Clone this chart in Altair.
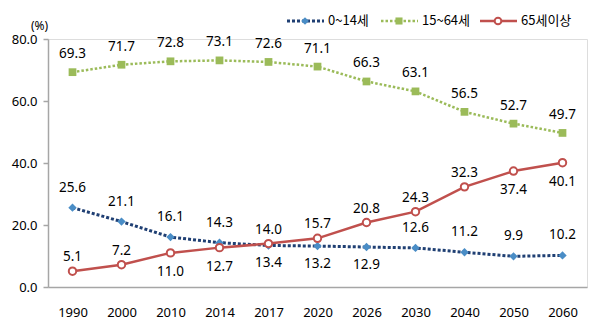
import altair as alt
import pandas as pd

YEARS = ["1990", "2000", "2010", "2014", "2017", "2020", "2026", "2030", "2040", "2050", "2060"]
SERIES = ["0~14세", "15~64세", "65세이상"]
CHILD = [25.6, 21.1, 16.1, 14.3, 13.4, 13.2, 12.9, 12.6, 11.2, 9.9, 10.2]
WORKING = [69.3, 71.7, 72.8, 73.1, 72.6, 71.1, 66.3, 63.1, 56.5, 52.7, 49.7]
ELDER = [5.1, 7.2, 11.0, 12.7, 14.0, 15.7, 20.8, 24.3, 32.3, 37.4, 40.1]
Y_TICKS = [0, 20, 40, 60, 80]

# label placement (above / below the marker)
CHILD_SIDE = ["above"] * 4 + ["below"] * 3 + ["above"] * 4
WORKING_SIDE = ["above"] * 11
ELDER_SIDE = ["above", "above", "below", "below", "above", "above",
              "above", "above", "above", "below", "below"]

rows = []
for s, vals, sides in zip(SERIES, [CHILD, WORKING, ELDER], [CHILD_SIDE, WORKING_SIDE, ELDER_SIDE]):
    for y, v, sd in zip(YEARS, vals, sides):
        rows.append({"year": y, "series": s, "value": v, "side": sd})
df = pd.DataFrame(rows)

FONT = "Noto Sans"
KFONT = "Noto Sans CJK KR"
NAVY = "#1F3F73"
BLUE = "#4A8DC6"
GREEN = "#9BBB59"
RED = "#C0504D"
AXIS = "#A6A6A6"

x_enc = alt.X("year:O", sort=YEARS,
              scale=alt.Scale(type="point", padding=0.5),
              axis=alt.Axis(title=None, labelAngle=0, ticks=False, labelPadding=19,
                            labelFont=FONT, labelFontSize=13, labelColor="#000000",
                            domainColor=AXIS, domainWidth=1.5, grid=False))
y_enc = alt.Y("value:Q",
              scale=alt.Scale(domain=[0, 80], nice=False),
              axis=alt.Axis(values=Y_TICKS, format=".1f", title="(%)", titleAngle=0,
                            titleX=-9, titleY=-14, titleAlign="center", titleBaseline="middle",
                            titleFont=FONT, titleFontSize=12, titleFontWeight="normal",
                            labelFont=FONT, labelFontSize=13, labelColor="#000000",
                            labelPadding=6, tickSize=5, tickColor=AXIS, tickWidth=1.5,
                            domainColor=AXIS, domainWidth=1.5, grid=False))

base = alt.Chart(df).encode(x=x_enc, y=y_enc)

def series_layers(name, line_kw, point_kw, above_dy, below_dy):
    b = base.transform_filter(alt.datum.series == name)
    line = b.mark_line(**line_kw)
    pts = b.mark_point(**point_kw)
    t_above = b.transform_filter(alt.datum.side == "above").mark_text(
        dy=above_dy, font=FONT, fontSize=13.5, color="#000000").encode(text=alt.Text("value:Q", format=".1f"))
    t_below = b.transform_filter(alt.datum.side == "below").mark_text(
        dy=below_dy, font=FONT, fontSize=13.5, color="#000000").encode(text=alt.Text("value:Q", format=".1f"))
    return [line, pts, t_above, t_below]

layers = []
layers += series_layers(SERIES[0],
                        dict(color=NAVY, strokeWidth=3, strokeDash=[3, 2], strokeCap="butt"),
                        dict(shape="diamond", filled=True, color=BLUE, size=70, opacity=1),
                        -20, 18)
layers += series_layers(SERIES[1],
                        dict(color=GREEN, strokeWidth=2.5, strokeDash=[2.5, 2], strokeCap="butt"),
                        dict(shape="square", filled=True, color=GREEN, size=60, opacity=1),
                        -18, 18)
layers += series_layers(SERIES[2],
                        dict(color=RED, strokeWidth=2.5),
                        dict(shape="circle", filled=True, fill="white", stroke=RED, strokeWidth=2,
                             size=55, opacity=1),
                        -14, 19)

# manual legend
one = alt.Chart(pd.DataFrame({"k": [0]}))
LEG_Y = -18
def legend_item(x0, label, line_kw, point_kw):
    ln = one.mark_rule(**line_kw).encode(x=alt.value(x0), x2=alt.value(x0 + 37), y=alt.value(LEG_Y))
    pt = one.mark_point(**point_kw).encode(x=alt.value(x0 + 18), y=alt.value(LEG_Y))
    tx = one.mark_text(align="left", baseline="middle", font=KFONT, fontSize=13, color="#000000").encode(
        x=alt.value(x0 + 41), y=alt.value(LEG_Y), text=alt.value(label))
    return [ln, pt, tx]

layers += legend_item(239, SERIES[0],
                      dict(color=NAVY, strokeWidth=3, strokeDash=[3, 2], strokeCap="butt"),
                      dict(shape="diamond", filled=True, color=BLUE, size=60, opacity=1))
layers += legend_item(333, SERIES[1],
                      dict(color=GREEN, strokeWidth=2.5, strokeDash=[2.5, 2], strokeCap="butt"),
                      dict(shape="square", filled=True, color=GREEN, size=50, opacity=1))
layers += legend_item(432, SERIES[2],
                      dict(color=RED, strokeWidth=2.5),
                      dict(shape="circle", filled=True, fill="white", stroke=RED, strokeWidth=2,
                           size=45, opacity=1))

chart = alt.layer(*layers).properties(
    width=539, height=248,
    autosize=alt.AutoSizeParams(type="none"),
    padding={"left": 48, "top": 39, "right": 15, "bottom": 43},
).configure_view(stroke=None).configure(background="white")

chart.save("out.html", embed_options={"renderer": "svg", "actions": False})
